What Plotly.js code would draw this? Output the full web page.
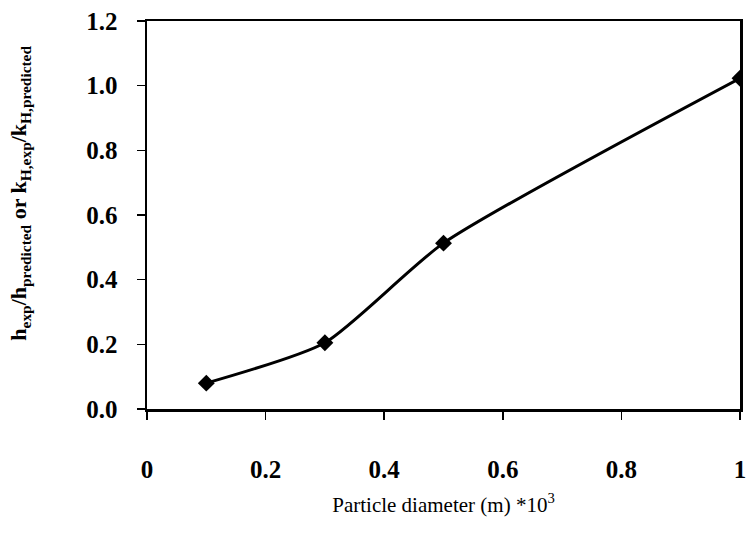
<!DOCTYPE html>
<html>
<head>
<meta charset="utf-8">
<script src="https://cdn.plot.ly/plotly-3.0.1.min.js"></script>
<style>
  html, body { margin: 0; padding: 0; background: #ffffff; }
  #chart { width: 747px; height: 540px; }
</style>
</head>
<body>
<div id="chart"></div>
<script>
// Data
const particleDiameter = [0.1, 0.3, 0.5, 1.0];     // m * 10^3
const ratio = [0.08, 0.205, 0.513, 1.023];          // h_exp/h_predicted or k_H,exp/k_H,predicted

const xTickValues = [0, 0.2, 0.4, 0.6, 0.8, 1];
const xTickLabels = ['0', '0.2', '0.4', '0.6', '0.8', '1'];
const yTickValues = [0, 0.2, 0.4, 0.6, 0.8, 1.0, 1.2];
const yTickLabels = ['0.0', '0.2', '0.4', '0.6', '0.8', '1.0', '1.2'];

const xTitle = 'Particle diameter (m) *10<sup>3</sup>';
const yTitle = 'h<sub>exp</sub>/h<sub>predicted</sub> or k<sub>H,exp</sub>/k<sub>H,predicted</sub>';

const serif = 'Liberation Serif, Times New Roman, serif';

const trace = {
  x: particleDiameter,
  y: ratio,
  type: 'scatter',
  mode: 'lines+markers',
  line: { color: '#000000', width: 3, shape: 'spline', smoothing: 0.6 },
  marker: { symbol: 'diamond', size: 13, color: '#000000' },
  showlegend: false,
  hoverinfo: 'x+y'
};

const layout = {
  width: 747,
  height: 540,
  paper_bgcolor: '#ffffff',
  plot_bgcolor: '#ffffff',
  margin: { l: 147, r: 7, t: 21, b: 131 },
  xaxis: {
    range: [0, 1],
    tickvals: xTickValues,
    ticktext: xTickLabels,
    ticks: 'outside',
    ticklen: 8,
    tickwidth: 1.5,
    tickcolor: '#000000',
    ticklabelstandoff: 28,
    showline: true,
    linecolor: '#000000',
    linewidth: 2.5,
    mirror: true,
    showgrid: false,
    zeroline: false,
    tickfont: { family: serif, size: 25, color: '#000000', weight: 'bold' },
    title: {
      text: xTitle,
      font: { family: serif, size: 21, color: '#000000' },
      standoff: 16
    }
  },
  yaxis: {
    range: [0, 1.2],
    tickvals: yTickValues,
    ticktext: yTickLabels,
    ticks: 'outside',
    ticklen: 8,
    tickwidth: 1.5,
    tickcolor: '#000000',
    ticklabelstandoff: 14,
    showline: true,
    linecolor: '#000000',
    linewidth: 2.5,
    mirror: true,
    showgrid: false,
    zeroline: false,
    tickfont: { family: serif, size: 25, color: '#000000', weight: 'bold' }
  },
  annotations: [{
    text: yTitle,
    xref: 'paper', yref: 'paper',
    x: 0, y: 0.555,
    xanchor: 'center', yanchor: 'middle',
    xshift: -127,
    textangle: -90,
    showarrow: false,
    font: { family: serif, size: 22, color: '#000000', weight: 'bold' }
  }]
};

Plotly.newPlot('chart', [trace], layout, { displayModeBar: false, staticPlot: true });
</script>
</body>
</html>
